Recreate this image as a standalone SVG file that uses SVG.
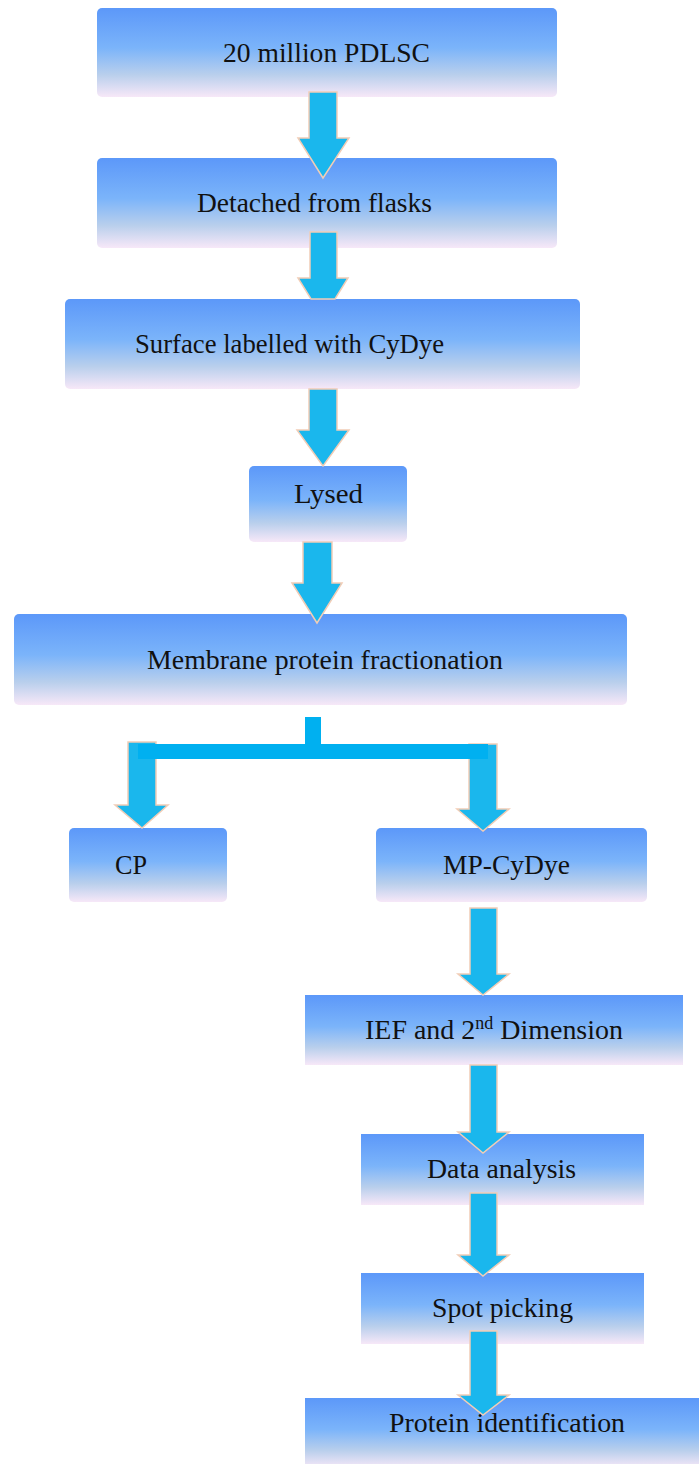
<svg xmlns="http://www.w3.org/2000/svg" width="699" height="1464" viewBox="0 0 699 1464">
<defs>
<linearGradient id="g" x1="0" y1="0" x2="0" y2="1">
<stop offset="0" stop-color="#5c98f9"/>
<stop offset="0.45" stop-color="#7bb4fa"/>
<stop offset="0.75" stop-color="#b9cfec"/>
<stop offset="1" stop-color="#f7e8f8"/>
</linearGradient>
<style>
.box{fill:url(#g);}
.t{font-family:"Liberation Serif","Times New Roman",serif;font-size:28px;fill:#111;}
.arr{fill:#1ab7ed;stroke:#f1cdb6;stroke-width:1.5;stroke-linejoin:miter;}
.bar{fill:#00b0f0;}
</style>
</defs>
<rect width="699" height="1464" fill="#ffffff"/>

<g id="n1"><rect class="box" x="97" y="8" width="460" height="89" rx="5"/>
<text class="t" x="223" y="62" textLength="207" lengthAdjust="spacingAndGlyphs">20 million PDLSC</text></g>

<g id="n2"><rect class="box" x="97" y="158" width="460" height="90" rx="5"/>
<text class="t" x="197" y="212" textLength="235" lengthAdjust="spacingAndGlyphs">Detached from flasks</text></g>

<g id="n3"><rect class="box" x="65" y="299" width="515" height="90" rx="5"/>
<text class="t" x="135" y="353" textLength="309" lengthAdjust="spacingAndGlyphs">Surface labelled with CyDye</text></g>

<g id="n4"><rect class="box" x="249" y="466" width="158" height="76" rx="5"/>
<text class="t" x="294" y="503" textLength="69" lengthAdjust="spacingAndGlyphs">Lysed</text></g>

<g id="n5"><rect class="box" x="14" y="614" width="613" height="91" rx="5"/>
<text class="t" x="147" y="669" textLength="356" lengthAdjust="spacingAndGlyphs">Membrane protein fractionation</text></g>

<g id="n6"><rect class="box" x="69" y="828" width="158" height="74" rx="5"/>
<text class="t" x="115" y="874" textLength="32" lengthAdjust="spacingAndGlyphs">CP</text></g>

<g id="n7"><rect class="box" x="376" y="828" width="271" height="74" rx="5"/>
<text class="t" x="443" y="874" textLength="127" lengthAdjust="spacingAndGlyphs">MP-CyDye</text></g>

<g id="n8"><rect class="box" x="305" y="995" width="378" height="70"/>
<text class="t" x="365" y="1039" textLength="258" lengthAdjust="spacingAndGlyphs">IEF and 2<tspan dy="-10" font-size="18">nd</tspan><tspan dy="10"> Dimension</tspan></text></g>

<g id="n9"><rect class="box" x="361" y="1134" width="283" height="71"/>
<text class="t" x="427" y="1178" textLength="149" lengthAdjust="spacingAndGlyphs">Data analysis</text></g>

<g id="n10"><rect class="box" x="361" y="1273" width="283" height="71"/>
<text class="t" x="432" y="1317" textLength="141" lengthAdjust="spacingAndGlyphs">Spot picking</text></g>

<g id="n11"><rect class="box" x="305" y="1398" width="400" height="70"/>
<text class="t" x="389" y="1432" textLength="236" lengthAdjust="spacingAndGlyphs">Protein identification</text></g>

<g id="connectors">
<polygon class="arr" points="309,92 337,92 337,138 349,138 323,178 298,138 309,138"/>
<polygon class="arr" points="310,232 337,232 337,278 348,278 335,299 311,299 298,278 310,278"/>
<polygon class="arr" points="309,389 337,389 337,430 349,430 323,466 297,430 309,430"/>
<polygon class="arr" points="303,542 332,542 332,583 342,583 317,623 292,583 303,583"/>
<rect class="bar" x="305" y="717" width="16" height="30"/>
<polygon class="arr" points="128,742 156,742 156,805 168,805 142,828 115,805 128,805"/>
<polygon class="arr" points="469,744 497,744 497,809 509,809 483,831 457,809 469,809"/>
<rect class="bar" x="138" y="744" width="350" height="15"/>
<polygon class="arr" points="470,908 497,908 497,974 509,974 483,995 458,974 470,974"/>
<polygon class="arr" points="470,1065 497,1065 497,1132 509,1132 483,1153 458,1132 470,1132"/>
<polygon class="arr" points="470,1193 497,1193 497,1255 509,1255 483,1276 458,1255 470,1255"/>
<polygon class="arr" points="470,1331 497,1331 497,1395 509,1395 483,1415 458,1395 470,1395"/>
</g>
</svg>
